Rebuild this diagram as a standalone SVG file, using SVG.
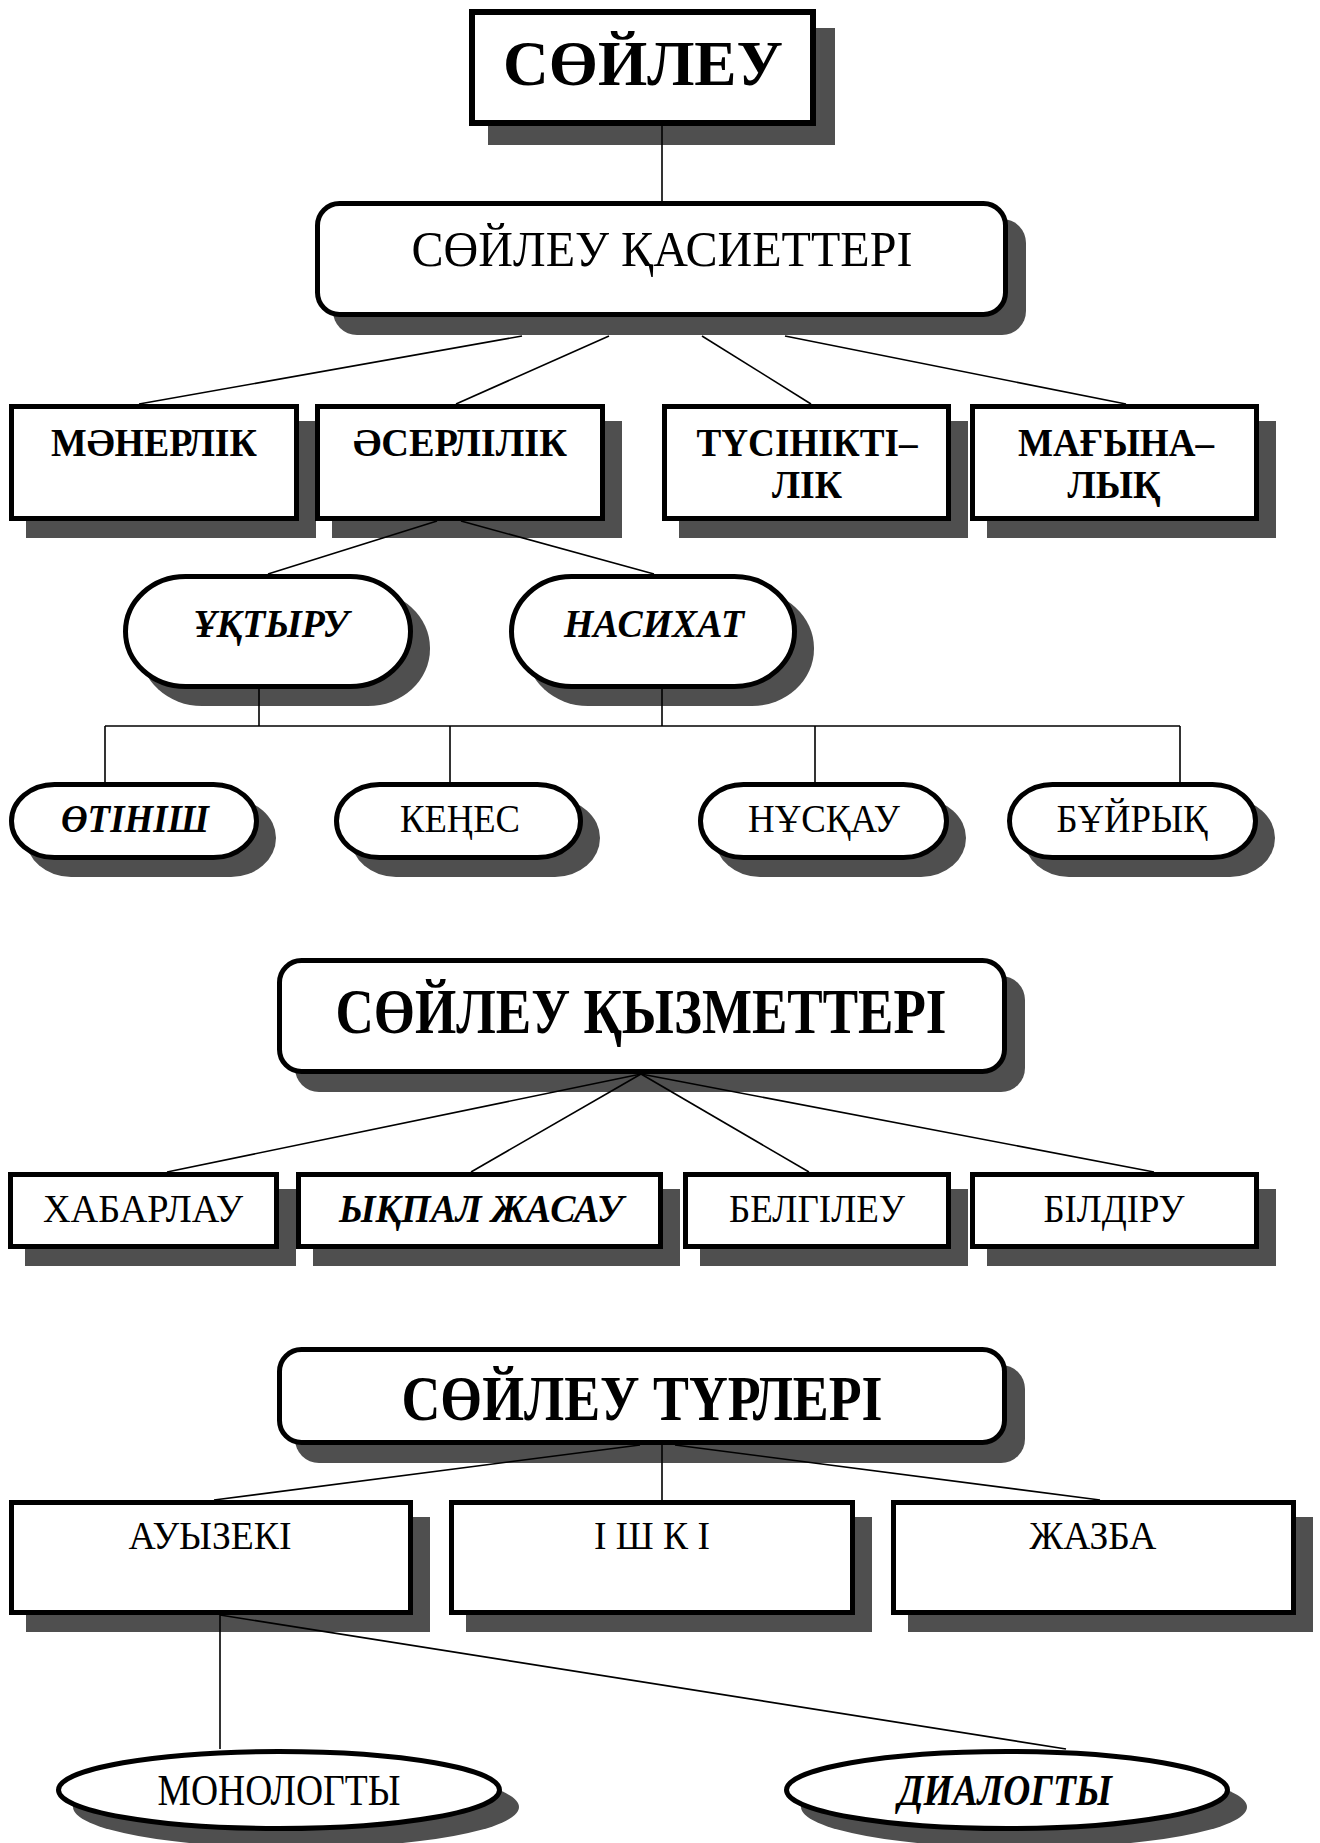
<svg xmlns="http://www.w3.org/2000/svg" width="1320" height="1843" viewBox="0 0 1320 1843">
<style>
.sh{fill:#4f4f4f;stroke:none}
.bx{fill:#fff;stroke:#000;stroke-width:5}
.bx6{fill:#fff;stroke:#000;stroke-width:6}
.ln{stroke:#000;stroke-width:1.6;fill:none}
text{font-family:"Liberation Serif","Times New Roman",serif;fill:#000;text-anchor:middle}
.b{font-weight:bold}
.i{font-style:italic}
</style>
<rect width="1320" height="1843" fill="#fff"/>
<g id="n-soileu">
<rect class="sh" x="488" y="28" width="347" height="117"/>
<rect class="bx6" x="472" y="12" width="341" height="111"/>
<text class="b" x="643" y="85" font-size="64" textLength="280" lengthAdjust="spacingAndGlyphs">СӨЙЛЕУ</text>
</g>
<g id="n-qasietteri">
<rect class="sh" x="333" y="219" width="693" height="116" rx="24"/>
<rect class="bx" x="317.5" y="203.5" width="688" height="111" rx="22"/>
<text x="662" y="266" font-size="51" textLength="501" lengthAdjust="spacingAndGlyphs">СӨЙЛЕУ ҚАСИЕТТЕРІ</text>
</g>
<g id="n-manerlik">
<rect class="sh" x="26" y="421" width="290" height="117"/>
<rect class="bx" x="11.5" y="406.5" width="285" height="112"/>
<text class="b" x="154" y="456" font-size="40" textLength="206" lengthAdjust="spacingAndGlyphs">МӘНЕРЛІК</text>
</g>
<g id="n-aserlilik">
<rect class="sh" x="332" y="421" width="290" height="117"/>
<rect class="bx" x="317.5" y="406.5" width="285" height="112"/>
<text class="b" x="460" y="456" font-size="40" textLength="214" lengthAdjust="spacingAndGlyphs">ӘСЕРЛІЛІК</text>
</g>
<g id="n-tusiniktilik">
<rect class="sh" x="679" y="421" width="289" height="117"/>
<rect class="bx" x="664.5" y="406.5" width="284" height="112"/>
<text class="b" x="807" y="456" font-size="40" textLength="221" lengthAdjust="spacingAndGlyphs">ТҮСІНІКТІ–</text>
<text class="b" x="807" y="498" font-size="40" textLength="70" lengthAdjust="spacingAndGlyphs">ЛІК</text>
</g>
<g id="n-magynalyq">
<rect class="sh" x="987" y="421" width="289" height="117"/>
<rect class="bx" x="972.5" y="406.5" width="284" height="112"/>
<text class="b" x="1116" y="456" font-size="40" textLength="196" lengthAdjust="spacingAndGlyphs">МАҒЫНА–</text>
<text class="b" x="1114" y="498" font-size="40" textLength="93" lengthAdjust="spacingAndGlyphs">ЛЫҚ</text>
</g>
<g id="n-uqtyru">
<rect class="sh" x="140" y="591" width="290" height="115" rx="62" ry="57"/>
<rect class="bx" x="125.5" y="576.5" width="285" height="110" rx="60" ry="55"/>
<text class="b i" x="271" y="637" font-size="40" textLength="155" lengthAdjust="spacingAndGlyphs">ҰҚТЫРУ</text>
</g>
<g id="n-nasihat">
<rect class="sh" x="526" y="591" width="288" height="115" rx="62" ry="57"/>
<rect class="bx" x="511.5" y="576.5" width="283" height="110" rx="60" ry="55"/>
<text class="b i" x="654" y="637" font-size="40" textLength="180" lengthAdjust="spacingAndGlyphs">НАСИХАТ</text>
</g>
<g id="n-otinish">
<rect class="sh" x="26" y="799" width="250" height="78" rx="45" ry="39"/>
<rect class="bx" x="11.5" y="784.5" width="245" height="73" rx="43" ry="36.5"/>
<text class="b i" x="135" y="832" font-size="39" textLength="148" lengthAdjust="spacingAndGlyphs">ӨТІНІШ</text>
</g>
<g id="n-kenes">
<rect class="sh" x="351" y="799" width="249" height="78" rx="45" ry="39"/>
<rect class="bx" x="336.5" y="784.5" width="244" height="73" rx="43" ry="36.5"/>
<text x="460" y="832" font-size="39" textLength="120" lengthAdjust="spacingAndGlyphs">КЕҢЕС</text>
</g>
<g id="n-nusqau">
<rect class="sh" x="715" y="799" width="251" height="78" rx="45" ry="39"/>
<rect class="bx" x="700.5" y="784.5" width="246" height="73" rx="43" ry="36.5"/>
<text x="824" y="832" font-size="39" textLength="152" lengthAdjust="spacingAndGlyphs">НҰСҚАУ</text>
</g>
<g id="n-buiryq">
<rect class="sh" x="1024" y="799" width="251" height="78" rx="45" ry="39"/>
<rect class="bx" x="1009.5" y="784.5" width="246" height="73" rx="43" ry="36.5"/>
<text x="1132" y="832" font-size="39" textLength="151" lengthAdjust="spacingAndGlyphs">БҰЙРЫҚ</text>
</g>
<g id="n-qyzmetteri">
<rect class="sh" x="295" y="976" width="730" height="116" rx="24"/>
<rect class="bx" x="279.5" y="960.5" width="725" height="111" rx="22"/>
<text class="b" x="641" y="1033" font-size="63" textLength="611" lengthAdjust="spacingAndGlyphs">СӨЙЛЕУ ҚЫЗМЕТТЕРІ</text>
</g>
<g id="n-habarlau">
<rect class="sh" x="25" y="1189" width="271" height="77"/>
<rect class="bx" x="10.5" y="1174.5" width="266" height="72"/>
<text x="143" y="1222" font-size="41" textLength="200" lengthAdjust="spacingAndGlyphs">ХАБАРЛАУ</text>
</g>
<g id="n-yqpal">
<rect class="sh" x="313" y="1189" width="367" height="77"/>
<rect class="bx" x="298.5" y="1174.5" width="362" height="72"/>
<text class="b i" x="481" y="1222" font-size="41" textLength="284" lengthAdjust="spacingAndGlyphs">ЫҚПАЛ ЖАСАУ</text>
</g>
<g id="n-belgileu">
<rect class="sh" x="700" y="1189" width="268" height="77"/>
<rect class="bx" x="685.5" y="1174.5" width="263" height="72"/>
<text x="817" y="1222" font-size="41" textLength="176" lengthAdjust="spacingAndGlyphs">БЕЛГІЛЕУ</text>
</g>
<g id="n-bildiru">
<rect class="sh" x="987" y="1189" width="289" height="77"/>
<rect class="bx" x="972.5" y="1174.5" width="284" height="72"/>
<text x="1114" y="1222" font-size="41" textLength="141" lengthAdjust="spacingAndGlyphs">БІЛДІРУ</text>
</g>
<g id="n-turleri">
<rect class="sh" x="295" y="1365" width="730" height="98" rx="24"/>
<rect class="bx" x="279.5" y="1349.5" width="725" height="93" rx="22"/>
<text class="b" x="642" y="1420" font-size="63" textLength="481" lengthAdjust="spacingAndGlyphs">СӨЙЛЕУ ТҮРЛЕРІ</text>
</g>
<g id="n-auyzeki">
<rect class="sh" x="26" y="1517" width="404" height="115"/>
<rect class="bx" x="11.5" y="1502.5" width="399" height="110"/>
<text x="210" y="1549" font-size="41" textLength="163" lengthAdjust="spacingAndGlyphs">АУЫЗЕКІ</text>
</g>
<g id="n-ishki">
<rect class="sh" x="466" y="1517" width="406" height="115"/>
<rect class="bx" x="451.5" y="1502.5" width="401" height="110"/>
<text x="652" y="1549" font-size="41" textLength="116" lengthAdjust="spacingAndGlyphs">І Ш К І</text>
</g>
<g id="n-jazba">
<rect class="sh" x="908" y="1517" width="405" height="115"/>
<rect class="bx" x="893.5" y="1502.5" width="400" height="110"/>
<text x="1093" y="1549" font-size="41" textLength="127" lengthAdjust="spacingAndGlyphs">ЖАЗБА</text>
</g>
<g id="n-monologty">
<ellipse class="sh" cx="296" cy="1807" rx="223" ry="41"/>
<ellipse class="bx" cx="279" cy="1790" rx="220.5" ry="38.5"/>
<text x="279" y="1805" font-size="44" textLength="243" lengthAdjust="spacingAndGlyphs">МОНОЛОГТЫ</text>
</g>
<g id="n-dialogty">
<ellipse class="sh" cx="1024" cy="1807" rx="223" ry="41"/>
<ellipse class="bx" cx="1007" cy="1790" rx="220.5" ry="38.5"/>
<text class="b i" x="1005" y="1805" font-size="44" textLength="214" lengthAdjust="spacingAndGlyphs">ДИАЛОГТЫ</text>
</g>
<g id="connectors" class="ln">
<line x1="662" y1="126" x2="662" y2="201"/>
<line x1="522" y1="336" x2="139" y2="404"/>
<line x1="609" y1="336" x2="456" y2="404"/>
<line x1="702" y1="336" x2="811" y2="404"/>
<line x1="785" y1="336" x2="1126" y2="404"/>
<line x1="437" y1="521" x2="268" y2="574"/>
<line x1="461" y1="521" x2="654" y2="574"/>
<line x1="259" y1="689" x2="259" y2="726"/>
<line x1="662" y1="689" x2="662" y2="726"/>
<line x1="105" y1="726" x2="1180" y2="726"/>
<line x1="105" y1="726" x2="105" y2="782"/>
<line x1="450" y1="726" x2="450" y2="782"/>
<line x1="815" y1="726" x2="815" y2="782"/>
<line x1="1180" y1="726" x2="1180" y2="782"/>
<line x1="641" y1="1074" x2="167" y2="1172"/>
<line x1="641" y1="1074" x2="471" y2="1172"/>
<line x1="641" y1="1074" x2="809" y2="1172"/>
<line x1="641" y1="1074" x2="1154" y2="1172"/>
<line x1="640" y1="1445" x2="214" y2="1500"/>
<line x1="662" y1="1445" x2="662" y2="1500"/>
<line x1="675" y1="1445" x2="1100" y2="1500"/>
<line x1="220" y1="1615" x2="220" y2="1749"/>
<line x1="220" y1="1615" x2="1066" y2="1749"/>
</g>
</svg>
